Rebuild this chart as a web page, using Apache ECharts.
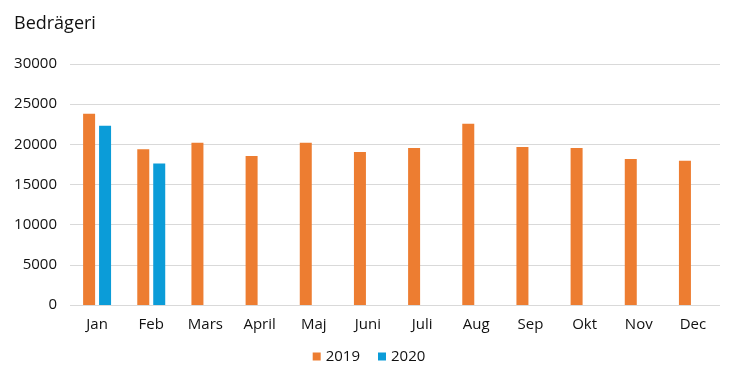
<!DOCTYPE html>
<html><head><meta charset="utf-8">
<script src="https://cdn.jsdelivr.net/npm/echarts@6/dist/echarts.min.js"></script>
<style>html,body{margin:0;padding:0;background:#fff}#c{width:738px;height:383px}</style>
</head><body><div id="c"></div>
<script>
const categories = ["Jan","Feb","Mars","April","Maj","Juni","Juli","Aug","Sep","Okt","Nov","Dec"];
const series2019 = [23800,19400,20200,18550,20200,19050,19550,22550,19680,19550,18180,17950];
const series2020 = [22300,17600,null,null,null,null,null,null,null,null,null,null];
const yTicks = {min:0, max:30000, interval:5000};
const FONT = "'Open Sans', 'Noto Sans', sans-serif";
const chart = echarts.init(document.getElementById('c'), null, {renderer:'canvas'});
chart.setOption({
  animation:false,
  title:{text:"Bedrägeri", left:9, top:10, textStyle:{fontFamily:FONT, fontSize:18, fontWeight:'normal', color:'#111'}},
  legend:{bottom:14, left:'center', itemWidth:8, itemHeight:8, itemGap:18, icon:'rect',
    textStyle:{fontFamily:FONT, fontSize:15, color:'#111'}, data:["2019","2020"]},
  grid:{left:70, right:18, top:64, bottom:78, containLabel:false},
  xAxis:{type:'category', data:categories, axisLine:{show:false}, axisTick:{show:false},
    axisLabel:{fontFamily:FONT, fontSize:15, color:'#111', margin:12}},
  yAxis:{type:'value', min:yTicks.min, max:yTicks.max, interval:yTicks.interval,
    axisLine:{show:false}, axisTick:{show:false},
    splitLine:{lineStyle:{color:'#d9d9d9', width:1}},
    axisLabel:{fontFamily:FONT, fontSize:15, color:'#111', margin:13, formatter:v=>String(v)}},
  series:[
    {name:"2019", type:'bar', data:series2019, barWidth:12, barGap:'33%', itemStyle:{color:'#ED7D31'}},
    {name:"2020", type:'bar', data:series2020, barWidth:12, itemStyle:{color:'#0B9CD8'}}
  ]
});
</script></body></html>
